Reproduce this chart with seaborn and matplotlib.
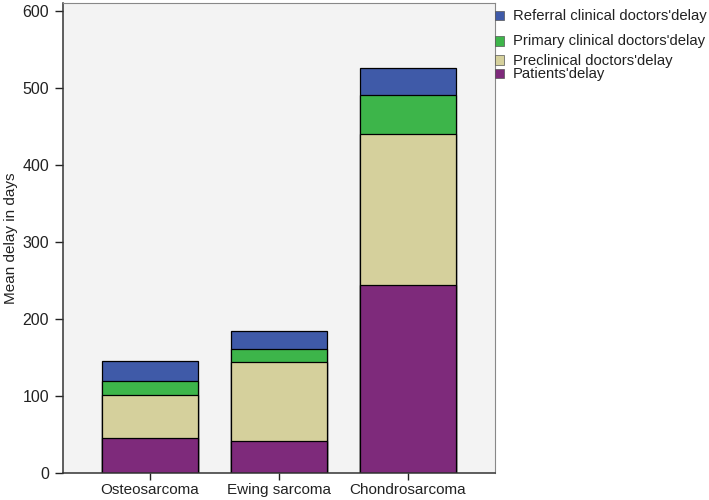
import matplotlib
matplotlib.use("Agg")
import matplotlib.pyplot as plt
import matplotlib.patches as mpatches
import seaborn as sns
import pandas as pd
import numpy as np

# data
categories = ["Osteosarcoma", "Ewing sarcoma", "Chondrosarcoma"]
patients = [45, 41, 245]
preclinical = [57, 103, 196]
primary = [17, 17, 50]
referral = [27, 24, 35]

series_names = ["Patients'delay", "Preclinical doctors'delay",
                "Primary clinical doctors'delay", "Referral clinical doctors'delay"]
series_colors = ["#7E2A7B", "#D5D09C", "#3DB54A", "#3F5AA8"]

sns.set_style("white")
plt.rcParams["font.family"] = ["Liberation Sans", "DejaVu Sans"]

fig = plt.figure(figsize=(7.09, 5.0), dpi=100)
ax = fig.add_axes([63 / 709, 1 - 473 / 500, (495 - 63) / 709, (473 - 3) / 500])
ax.set_facecolor("#F3F3F3")

layers = [patients, preclinical, primary, referral]
cum = np.cumsum(np.array(layers), axis=0)

# draw tallest cumulative layer first so lower ones sit on top
for i in range(len(layers) - 1, -1, -1):
    df = pd.DataFrame({"cat": categories, "val": cum[i]})
    sns.barplot(data=df, x="cat", y="val", color=series_colors[i], width=0.75,
                edgecolor="black", linewidth=0.9, saturation=1, ax=ax)

ax.set_xlim(-0.674, 2.674)
ax.set_ylim(0, 611)
ax.set_yticks([0, 100, 200, 300, 400, 500, 600])
ax.set_xlabel("")
ax.set_ylabel("Mean delay in days", fontsize=11, color="#222222", labelpad=3)
ax.tick_params(axis="both", labelsize=11, colors="#222222", length=6, width=1,
               direction="out")
ax.tick_params(axis="y", labelsize=11.5, pad=4)
ax.tick_params(axis="x", length=5, pad=2.5)
ax.tick_params(left=True, bottom=True)

for side in ["left", "bottom"]:
    ax.spines[side].set_color("#333333")
    ax.spines[side].set_linewidth(1.1)
for side in ["top", "right"]:
    ax.spines[side].set_color("#888888")
    ax.spines[side].set_linewidth(0.8)

# legend placed by hand (uneven spacing in the reference)
legend_y = [15.5, 41, 60, 73.5]
legend_order = [3, 2, 1, 0]
for y, idx in zip(legend_y, legend_order):
    fig.patches.append(mpatches.Rectangle((495 / 709, 1 - (y + 4.5) / 500), 8.5 / 709, 9 / 500,
                                          transform=fig.transFigure,
                                          facecolor=series_colors[idx],
                                          edgecolor="#555555", linewidth=0.5))
    fig.text(513 / 709, 1 - (y + 0.5) / 500, series_names[idx], fontsize=10.7,
             color="#222222", va="center", ha="left")

fig.savefig("out.png", dpi=100)
